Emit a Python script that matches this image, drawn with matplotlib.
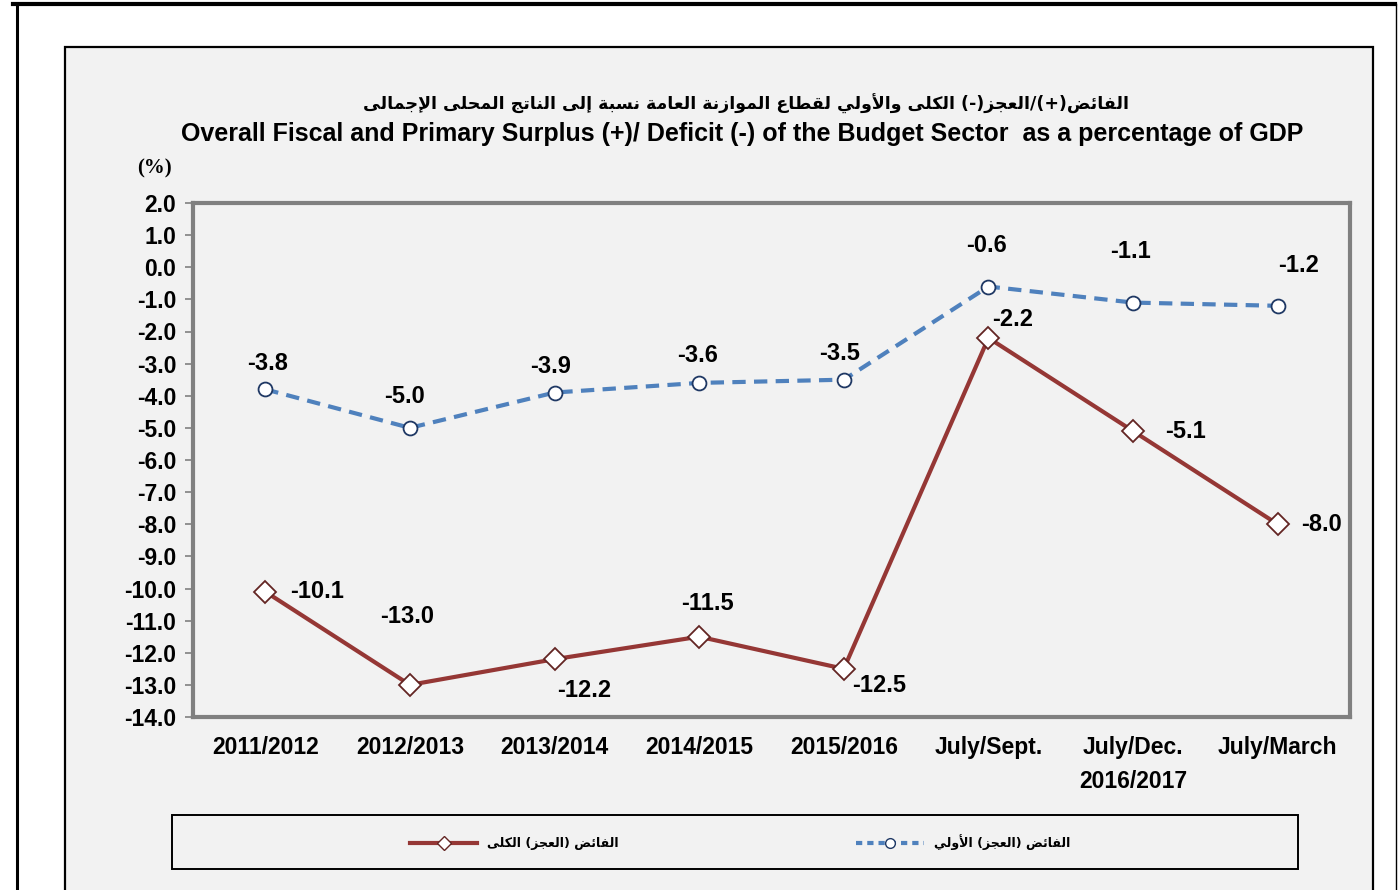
import matplotlib
matplotlib.use("Agg")
import matplotlib.pyplot as plt
from matplotlib.patches import Rectangle
from matplotlib.lines import Line2D

plt.rcParams["font.family"] = ["Liberation Sans", "DejaVu Sans"]
plt.rcParams["font.weight"] = "bold"

categories = ["2011/2012", "2012/2013", "2013/2014", "2014/2015", "2015/2016",
              "July/Sept.", "July/Dec.", "July/March"]
overall = [-10.1, -13.0, -12.2, -11.5, -12.5, -2.2, -5.1, -8.0]
primary = [-3.8, -5.0, -3.9, -3.6, -3.5, -0.6, -1.1, -1.2]
y_ticks = [2.0, 1.0, 0.0, -1.0, -2.0, -3.0, -4.0, -5.0, -6.0, -7.0, -8.0,
           -9.0, -10.0, -11.0, -12.0, -13.0, -14.0]

title_ar = "الفائض(+)/العجز(-) الكلى والأولي لقطاع الموازنة العامة نسبة إلى الناتج المحلى الإجمالى"
title_en = "Overall Fiscal and Primary Surplus (+)/ Deficit (-) of the Budget Sector  as a percentage of GDP"
legend_overall = "الفائض (العجز) الكلى"
legend_primary = "الفائض (العجز) الأولي"

# label offsets in pixels (dx, dy) from each point
overall_off = [(52, 0), (-3, 68), (30, -31), (8, 33), (35, -17), (24, 18), (52, 0), (44, 0)]
primary_off = [(2, 26), (-5, 31), (-4, 26), (-2, 27), (-4, 26), (-2, 41), (-3, 51), (21, 40)]

# --- minimal arabic shaping (matplotlib has no bidi / joining) ---
FORMS = {
    "\u0627": "\uFE8D\uFE8E", "\u0623": "\uFE83\uFE84", "\u0625": "\uFE87\uFE88",
    "\u0622": "\uFE81\uFE82", "\u0628": "\uFE8F\uFE90\uFE91\uFE92",
    "\u0629": "\uFE93\uFE94", "\u062A": "\uFE95\uFE96\uFE97\uFE98",
    "\u062C": "\uFE9D\uFE9E\uFE9F\uFEA0", "\u062D": "\uFEA1\uFEA2\uFEA3\uFEA4",
    "\u062F": "\uFEA9\uFEAA", "\u0631": "\uFEAD\uFEAE", "\u0632": "\uFEAF\uFEB0",
    "\u0633": "\uFEB1\uFEB2\uFEB3\uFEB4", "\u0636": "\uFEBD\uFEBE\uFEBF\uFEC0",
    "\u0637": "\uFEC1\uFEC2\uFEC3\uFEC4", "\u0639": "\uFEC9\uFECA\uFECB\uFECC",
    "\u0641": "\uFED1\uFED2\uFED3\uFED4", "\u0642": "\uFED5\uFED6\uFED7\uFED8",
    "\u0643": "\uFED9\uFEDA\uFEDB\uFEDC", "\u0644": "\uFEDD\uFEDE\uFEDF\uFEE0",
    "\u0645": "\uFEE1\uFEE2\uFEE3\uFEE4", "\u0646": "\uFEE5\uFEE6\uFEE7\uFEE8",
    "\u0647": "\uFEE9\uFEEA\uFEEB\uFEEC", "\u0648": "\uFEED\uFEEE",
    "\u0649": "\uFEEF\uFEF0", "\u064A": "\uFEF1\uFEF2\uFEF3\uFEF4",
    "\u0626": "\uFE89\uFE8A\uFE8B\uFE8C",
}
LAM_ALEF = {"\u0627": "\uFEFB\uFEFC", "\u0623": "\uFEF7\uFEF8",
            "\u0625": "\uFEF9\uFEFA", "\u0622": "\uFEF5\uFEF6"}
MIRROR = {"(": ")", ")": "("}


def shape_ar(text):
    units = []
    i = 0
    while i < len(text):
        c = text[i]
        if c == "\u0644" and i + 1 < len(text) and text[i + 1] in LAM_ALEF:
            units.append(LAM_ALEF[text[i + 1]])
            i += 2
            continue
        units.append(FORMS.get(c, c))
        i += 1
    arabic = [len(u) >= 2 for u in units]
    out = []
    for k, u in enumerate(units):
        if not arabic[k]:
            out.append(MIRROR.get(u, u))
            continue
        prev = k > 0 and arabic[k - 1] and len(units[k - 1]) == 4
        nxt = len(u) == 4 and k + 1 < len(units) and arabic[k + 1]
        if len(u) == 2:
            out.append(u[1] if prev else u[0])
        elif prev and nxt:
            out.append(u[3])
        elif prev:
            out.append(u[1])
        elif nxt:
            out.append(u[2])
        else:
            out.append(u[0])
    return "".join(reversed(out))


W, H = 1398, 890
fig = plt.figure(figsize=(W / 100, H / 100), dpi=100)
fig.patch.set_facecolor("white")

# outer frame lines and grey panel
fig.add_artist(Line2D([13 / W, 1395 / W], [1 - 4 / H, 1 - 4 / H], color="black", lw=3))
fig.add_artist(Line2D([17 / W, 17 / W], [0, 1 - 4 / H], color="black", lw=2.2))
fig.add_artist(Line2D([1396 / W, 1396 / W], [0, 1 - 4 / H], color="black", lw=1))
fig.add_artist(Rectangle((65 / W, -0.05), (1373 - 65) / W, 1.05 - 47 / H,
                         facecolor="#f2f2f2", edgecolor="black", lw=1.6,
                         transform=fig.transFigure, zorder=0))
# legend frame
fig.add_artist(Rectangle((172 / W, 1 - 869 / H), (1298 - 172) / W, 54 / H,
                         facecolor="#f2f2f2", edgecolor="black", lw=1.4,
                         transform=fig.transFigure, zorder=1))

ax = fig.add_axes([193 / W, 1 - 717 / H, (1350 - 193) / W, (717 - 203) / H])
ax.set_facecolor("#f2f2f2")
x = list(range(len(categories)))

ax.plot(x, overall, color="#953735", lw=3, marker="D", markersize=11,
        markerfacecolor="white", markeredgecolor="#632523", markeredgewidth=1.3,
        zorder=3)
ax.plot(x, primary, color="#4f81bd", lw=3, dashes=(3.2, 2), marker="o",
        markersize=10, markerfacecolor="white", markeredgecolor="#1f3864",
        markeredgewidth=1.3, zorder=3)

for xi, v, (dx, dy) in zip(x, overall, overall_off):
    ax.annotate(f"{v:.1f}", (xi, v), xytext=(dx * 0.72, dy * 0.72),
                textcoords="offset points", ha="center", va="center",
                fontsize=17, fontweight="bold")
for xi, v, (dx, dy) in zip(x, primary, primary_off):
    ax.annotate(f"{v:.1f}", (xi, v), xytext=(dx * 0.72, dy * 0.72),
                textcoords="offset points", ha="center", va="center",
                fontsize=17, fontweight="bold")

ax.set_xlim(-0.5, len(categories) - 0.5)
ax.set_ylim(-14, 2)
ax.set_yticks(y_ticks)
ax.set_yticklabels([f"{t:.1f}" for t in y_ticks], fontsize=16.5, fontweight="bold")
ax.set_xticks(x)
ax.set_xticklabels(categories, fontsize=16.5, fontweight="bold")
ax.tick_params(axis="x", length=0, pad=14)
ax.tick_params(axis="y", length=6, width=1.2, color="#808080", pad=6, direction="out")
for s in ax.spines.values():
    s.set_color("#808080")
    s.set_linewidth(3)

ax.text(6, -0.104, "2016/2017", transform=ax.get_xaxis_transform(),
        ha="center", va="top", fontsize=16.5, fontweight="bold")
ax.text(-0.033, 1.068, "(%)", transform=ax.transAxes, ha="center", va="center",
        fontsize=15, fontweight="bold", family="Liberation Serif")

fig.text(746 / W, 1 - 104 / H, shape_ar(title_ar), ha="center", va="center",
         fontsize=12.5, fontweight="bold", family=["DejaVu Sans"])
fig.text(742 / W, 1 - 134 / H, title_en, ha="center", va="center",
         fontsize=18, fontweight="bold")

handles = [
    Line2D([], [], color="#953735", lw=3, marker="D", markersize=7,
           markerfacecolor="white", markeredgecolor="#632523"),
    Line2D([], [], color="#4f81bd", lw=3, dashes=(1.5, 1.2), marker="o", markersize=7,
           markerfacecolor="white", markeredgecolor="#1f3864"),
]
leg = fig.legend(handles, [shape_ar(legend_overall), shape_ar(legend_primary)],
                 ncol=2, loc="center", bbox_to_anchor=(740 / W, 1 - 842 / H),
                 frameon=False, handlelength=5.4, handletextpad=0.8,
                 columnspacing=19,
                 prop={"family": ["DejaVu Sans"], "weight": "bold", "size": 9})
leg.set_zorder(2)

fig.savefig("out.png", dpi=100)
